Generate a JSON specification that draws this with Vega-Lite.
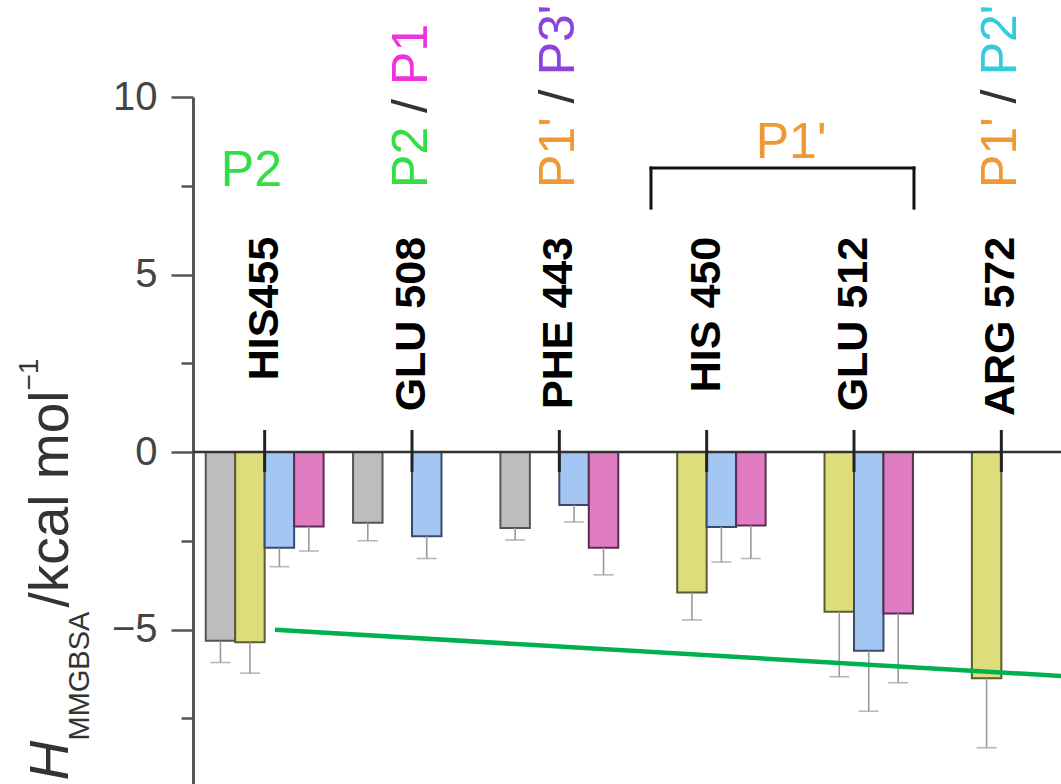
{
  "$schema": "https://vega.github.io/schema/vega-lite/v6.json",
  "width": 868,
  "height": 687,
  "autosize": {"type": "none"},
  "padding": {"left": 193, "top": 97, "right": 0, "bottom": 0},
  "background": "white",
  "config": {"view": {"stroke": null}, "font": "Liberation Sans"},
  "datasets": {
    "bars": [
      {"residue": "HIS455", "system": "Ligand 1", "value": -5.32, "lo": -5.93},
      {"residue": "HIS455", "system": "Ligand 2", "value": -5.36, "lo": -6.23},
      {"residue": "HIS455", "system": "Ligand 3", "value": -2.70, "lo": -3.23},
      {"residue": "HIS455", "system": "Ligand 4", "value": -2.10, "lo": -2.79},
      {"residue": "GLU 508", "system": "Ligand 1", "value": -1.99, "lo": -2.50},
      {"residue": "GLU 508", "system": "Ligand 3", "value": -2.37, "lo": -3.00},
      {"residue": "PHE 443", "system": "Ligand 1", "value": -2.14, "lo": -2.48},
      {"residue": "PHE 443", "system": "Ligand 3", "value": -1.49, "lo": -1.97},
      {"residue": "PHE 443", "system": "Ligand 4", "value": -2.70, "lo": -3.46},
      {"residue": "HIS 450", "system": "Ligand 2", "value": -3.96, "lo": -4.73},
      {"residue": "HIS 450", "system": "Ligand 3", "value": -2.11, "lo": -3.10},
      {"residue": "HIS 450", "system": "Ligand 4", "value": -2.07, "lo": -3.00},
      {"residue": "GLU 512", "system": "Ligand 2", "value": -4.50, "lo": -6.33},
      {"residue": "GLU 512", "system": "Ligand 3", "value": -5.60, "lo": -7.30},
      {"residue": "GLU 512", "system": "Ligand 4", "value": -4.55, "lo": -6.50},
      {"residue": "ARG 572", "system": "Ligand 2", "value": -6.37, "lo": -8.33}
    ],
    "residues": [
      {"residue": "HIS455"}, {"residue": "GLU 508"}, {"residue": "PHE 443"},
      {"residue": "HIS 450"}, {"residue": "GLU 512"}, {"residue": "ARG 572"}
    ],
    "rotated": [
      {"residue": "GLU 508", "text": "P2", "pocket": "P2", "y": 7.44},
      {"residue": "GLU 508", "text": "/", "pocket": "sep", "y": 9.55},
      {"residue": "GLU 508", "text": "P1", "pocket": "P1", "y": 10.34},
      {"residue": "PHE 443", "text": "P1'", "pocket": "P1'", "y": 7.44},
      {"residue": "PHE 443", "text": "/", "pocket": "sep", "y": 9.82},
      {"residue": "PHE 443", "text": "P3'", "pocket": "P3'", "y": 10.61},
      {"residue": "ARG 572", "text": "P1'", "pocket": "P1'", "y": 7.44},
      {"residue": "ARG 572", "text": "/", "pocket": "sep", "y": 9.82},
      {"residue": "ARG 572", "text": "P2'", "pocket": "P2'", "y": 10.61}
    ],
    "flatP2": [{"residue": "HIS455", "text": "P2", "pocket": "P2", "y": 7.49}],
    "flatP1": [{"residue": "GLU 512", "text": "P1'", "pocket": "P1'", "y": 8.28}],
    "one": [{}]
  },
  "resolve": {"axis": {"y": "independent"}},
  "layer": [
    {
      "data": {"name": "bars"},
      "mark": {"type": "bar", "strokeWidth": 2},
      "encoding": {
        "x": {"field": "residue", "type": "nominal", "sort": null, "axis": null,
              "scale": {"domain": ["HIS455", "GLU 508", "PHE 443", "HIS 450", "GLU 512", "ARG 572"], "range": [-2, 882], "paddingInner": 0, "paddingOuter": 0}},
        "xOffset": {"field": "system", "type": "nominal",
                    "scale": {"domain": ["Ligand 1", "Ligand 2", "Ligand 3", "Ligand 4"], "paddingInner": 0, "paddingOuter": 0.5}},
        "y": {"field": "value", "type": "quantitative", "stack": null,
              "scale": {"domain": [-9.352, 10], "nice": false, "zero": false},
              "axis": {"orient": "left", "values": [-5, 0, 5, 10], "title": null, "grid": false,
                       "domainColor": "#555555", "domainWidth": 3, "tickColor": "#555555", "tickWidth": 2.5, "tickSize": 22,
                       "labelFontSize": 40, "labelColor": "#444444", "labelFont": "Liberation Sans", "labelPadding": 14,
                       "labelFlush": false, "labelOverlap": false, "labelBound": false}},
        "y2": {"datum": 0},
        "fill": {"field": "system", "type": "nominal", "legend": null,
                 "scale": {"domain": ["Ligand 1", "Ligand 2", "Ligand 3", "Ligand 4"], "range": ["#bdbdbd", "#dedd7c", "#a3c6f2", "#e07cc2"]}},
        "stroke": {"field": "system", "type": "nominal", "legend": null,
                   "scale": {"domain": ["Ligand 1", "Ligand 2", "Ligand 3", "Ligand 4"], "range": ["#555555", "#5c5c2e", "#3a4a6a", "#5a2d52"]}}
      }
    },
    {
      "data": {"name": "bars"},
      "mark": {"type": "rule", "color": "#9a9a9a", "strokeWidth": 1.6},
      "encoding": {
        "x": {"field": "residue", "type": "nominal", "sort": null, "axis": null,
              "scale": {"domain": ["HIS455", "GLU 508", "PHE 443", "HIS 450", "GLU 512", "ARG 572"], "range": [-2, 882], "paddingInner": 0, "paddingOuter": 0}},
        "xOffset": {"field": "system", "type": "nominal",
                    "scale": {"domain": ["Ligand 1", "Ligand 2", "Ligand 3", "Ligand 4"], "paddingInner": 0, "paddingOuter": 0.5}},
        "y": {"field": "value", "type": "quantitative",
              "scale": {"domain": [-9.352, 10], "nice": false, "zero": false},
              "axis": {"orient": "left", "values": [-7.5, -2.5, 2.5, 7.5], "title": null, "grid": false, "domain": false, "labels": false,
                       "tickColor": "#555555", "tickWidth": 2.5, "tickSize": 12}},
        "y2": {"field": "lo"}
      }
    },
    {
      "data": {"name": "bars"},
      "mark": {"type": "tick", "color": "#9a9a9a", "thickness": 1.6, "size": 20, "orient": "horizontal"},
      "encoding": {
        "x": {"field": "residue", "type": "nominal", "sort": null, "axis": null,
              "scale": {"domain": ["HIS455", "GLU 508", "PHE 443", "HIS 450", "GLU 512", "ARG 572"], "range": [-2, 882], "paddingInner": 0, "paddingOuter": 0}},
        "xOffset": {"field": "system", "type": "nominal",
                    "scale": {"domain": ["Ligand 1", "Ligand 2", "Ligand 3", "Ligand 4"], "paddingInner": 0, "paddingOuter": 0.5}},
        "y": {"field": "lo", "type": "quantitative",
              "scale": {"domain": [-9.352, 10], "nice": false, "zero": false},
              "axis": {"orient": "left", "title": "ΔH", "grid": false, "domain": false, "ticks": false, "labels": false,
                       "titleFont": "Liberation Sans", "titleFontSize": 55, "titleFontStyle": "italic", "titleFontWeight": "normal",
                       "titleColor": "#333333", "titleAngle": 270, "titleAlign": "left", "titleBaseline": "alphabetic",
                       "titleX": -126, "titleY": 720}}
      }
    },
    {
      "data": {"name": "one"},
      "mark": {"type": "rule", "color": "#333333", "strokeWidth": 2.5},
      "encoding": {
        "y": {"datum": 0, "type": "quantitative",
              "scale": {"domain": [-9.352, 10], "nice": false, "zero": false}, "axis": null}
      }
    },
    {
      "data": {"name": "residues"},
      "mark": {"type": "rule", "color": "#222222", "strokeWidth": 3},
      "encoding": {
        "x": {"field": "residue", "type": "nominal", "sort": null, "axis": null,
              "scale": {"domain": ["HIS455", "GLU 508", "PHE 443", "HIS 450", "GLU 512", "ARG 572"], "range": [-2, 882], "paddingInner": 0, "paddingOuter": 0}},
        "y": {"datum": 0.62, "type": "quantitative",
              "scale": {"domain": [-9.352, 10], "nice": false, "zero": false},
              "axis": {"orient": "left", "title": "MMGBSA", "grid": false, "domain": false, "ticks": false, "labels": false,
                       "titleFont": "Liberation Sans", "titleFontSize": 29, "titleFontWeight": "normal",
                       "titleColor": "#333333", "titleAngle": 270, "titleAlign": "left", "titleBaseline": "alphabetic",
                       "titleX": -105, "titleY": 643}},
        "y2": {"datum": -0.56}
      }
    },
    {
      "data": {"name": "residues"},
      "mark": {"type": "text", "angle": 270, "align": "right", "baseline": "middle", "fontSize": 43, "fontWeight": "bold", "font": "Liberation Sans", "color": "#000000"},
      "encoding": {
        "x": {"field": "residue", "type": "nominal", "sort": null, "axis": null,
              "scale": {"domain": ["HIS455", "GLU 508", "PHE 443", "HIS 450", "GLU 512", "ARG 572"], "range": [-2, 882], "paddingInner": 0, "paddingOuter": 0}},
        "y": {"datum": 6.06, "type": "quantitative",
              "scale": {"domain": [-9.352, 10], "nice": false, "zero": false},
              "axis": {"orient": "left", "title": "/kcal mol", "grid": false, "domain": false, "ticks": false, "labels": false,
                       "titleFont": "Liberation Sans", "titleFontSize": 55, "titleFontWeight": "normal",
                       "titleColor": "#333333", "titleAngle": 270, "titleAlign": "left", "titleBaseline": "alphabetic",
                       "titleX": -126, "titleY": 510}},
        "text": {"field": "residue"}
      }
    },
    {
      "data": {"name": "rotated"},
      "mark": {"type": "text", "angle": 270, "align": "left", "baseline": "middle", "fontSize": 50, "font": "Liberation Sans"},
      "encoding": {
        "x": {"field": "residue", "type": "nominal", "sort": null, "axis": null,
              "scale": {"domain": ["HIS455", "GLU 508", "PHE 443", "HIS 450", "GLU 512", "ARG 572"], "range": [-2, 882], "paddingInner": 0, "paddingOuter": 0}},
        "y": {"field": "y", "type": "quantitative",
              "scale": {"domain": [-9.352, 10], "nice": false, "zero": false},
              "axis": {"orient": "left", "title": "−1", "grid": false, "domain": false, "ticks": false, "labels": false,
                       "titleFont": "Liberation Sans", "titleFontSize": 28, "titleFontWeight": "normal",
                       "titleColor": "#333333", "titleAngle": 270, "titleAlign": "left", "titleBaseline": "alphabetic",
                       "titleX": -156, "titleY": 293}},
        "text": {"field": "text"},
        "color": {"field": "pocket", "type": "nominal", "legend": null,
                  "scale": {"domain": ["P2", "P1", "P1'", "P3'", "P2'", "sep"], "range": ["#33dd44", "#ee33dd", "#ee9933", "#8a44dd", "#33ccdd", "#333333"]}}
      }
    },
    {
      "data": {"name": "flatP2"},
      "mark": {"type": "text", "align": "center", "baseline": "alphabetic", "fontSize": 50, "font": "Liberation Sans"},
      "encoding": {
        "x": {"field": "residue", "type": "nominal", "sort": null, "axis": null, "bandPosition": 0.41,
              "scale": {"domain": ["HIS455", "GLU 508", "PHE 443", "HIS 450", "GLU 512", "ARG 572"], "range": [-2, 882], "paddingInner": 0, "paddingOuter": 0}},
        "y": {"field": "y", "type": "quantitative",
              "scale": {"domain": [-9.352, 10], "nice": false, "zero": false}, "axis": null},
        "text": {"field": "text"},
        "color": {"field": "pocket", "type": "nominal", "legend": null,
                  "scale": {"domain": ["P2", "P1", "P1'", "P3'", "P2'", "sep"], "range": ["#33dd44", "#ee33dd", "#ee9933", "#8a44dd", "#33ccdd", "#333333"]}}
      }
    },
    {
      "data": {"name": "flatP1"},
      "mark": {"type": "text", "align": "center", "baseline": "alphabetic", "fontSize": 50, "font": "Liberation Sans"},
      "encoding": {
        "x": {"field": "residue", "type": "nominal", "sort": null, "axis": null, "bandPosition": 0.073,
              "scale": {"domain": ["HIS455", "GLU 508", "PHE 443", "HIS 450", "GLU 512", "ARG 572"], "range": [-2, 882], "paddingInner": 0, "paddingOuter": 0}},
        "y": {"field": "y", "type": "quantitative",
              "scale": {"domain": [-9.352, 10], "nice": false, "zero": false}, "axis": null},
        "text": {"field": "text"},
        "color": {"field": "pocket", "type": "nominal", "legend": null,
                  "scale": {"domain": ["P2", "P1", "P1'", "P3'", "P2'", "sep"], "range": ["#33dd44", "#ee33dd", "#ee9933", "#8a44dd", "#33ccdd", "#333333"]}}
      }
    },
    {
      "data": {"name": "one"},
      "mark": {"type": "rule", "color": "#111111", "strokeWidth": 3, "strokeCap": "square"},
      "encoding": {
        "x": {"datum": "HIS 450", "type": "nominal", "bandPosition": 0.122, "axis": null,
              "scale": {"domain": ["HIS455", "GLU 508", "PHE 443", "HIS 450", "GLU 512", "ARG 572"], "range": [-2, 882], "paddingInner": 0, "paddingOuter": 0}},
        "x2": {"datum": "GLU 512", "bandPosition": 0.907},
        "y": {"datum": 8.0, "type": "quantitative",
              "scale": {"domain": [-9.352, 10], "nice": false, "zero": false}, "axis": null}
      }
    },
    {
      "data": {"name": "one"},
      "mark": {"type": "rule", "color": "#111111", "strokeWidth": 3, "strokeCap": "square"},
      "encoding": {
        "x": {"datum": "HIS 450", "type": "nominal", "bandPosition": 0.122, "axis": null,
              "scale": {"domain": ["HIS455", "GLU 508", "PHE 443", "HIS 450", "GLU 512", "ARG 572"], "range": [-2, 882], "paddingInner": 0, "paddingOuter": 0}},
        "y": {"datum": 8.0, "type": "quantitative",
              "scale": {"domain": [-9.352, 10], "nice": false, "zero": false}, "axis": null},
        "y2": {"datum": 6.87}
      }
    },
    {
      "data": {"name": "one"},
      "mark": {"type": "rule", "color": "#111111", "strokeWidth": 3, "strokeCap": "square"},
      "encoding": {
        "x": {"datum": "GLU 512", "type": "nominal", "bandPosition": 0.907, "axis": null,
              "scale": {"domain": ["HIS455", "GLU 508", "PHE 443", "HIS 450", "GLU 512", "ARG 572"], "range": [-2, 882], "paddingInner": 0, "paddingOuter": 0}},
        "y": {"datum": 8.0, "type": "quantitative",
              "scale": {"domain": [-9.352, 10], "nice": false, "zero": false}, "axis": null},
        "y2": {"datum": 6.87}
      }
    },
    {
      "data": {"name": "one"},
      "mark": {"type": "rule", "color": "#00b050", "strokeWidth": 4.5},
      "encoding": {
        "x": {"datum": "HIS455", "type": "nominal", "bandPosition": 0.57, "axis": null,
              "scale": {"domain": ["HIS455", "GLU 508", "PHE 443", "HIS 450", "GLU 512", "ARG 572"], "range": [-2, 882], "paddingInner": 0, "paddingOuter": 0}},
        "x2": {"datum": "ARG 572", "bandPosition": 1},
        "y": {"datum": -5.01, "type": "quantitative",
              "scale": {"domain": [-9.352, 10], "nice": false, "zero": false}, "axis": null},
        "y2": {"datum": -6.33}
      }
    }
  ]
}
